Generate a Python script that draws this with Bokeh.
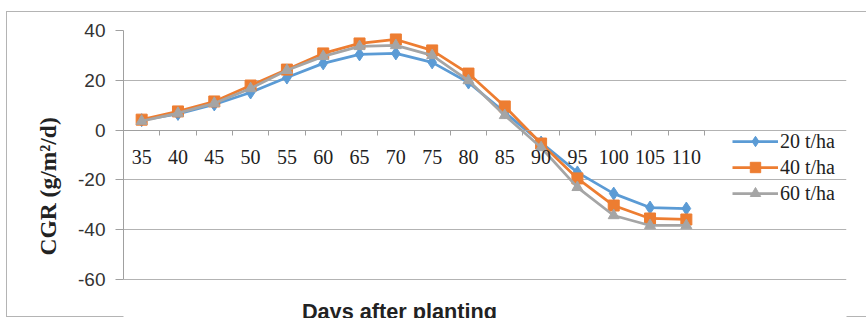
from bokeh.plotting import figure
from bokeh.models import Range1d, FixedTicker, Legend, LegendItem, Title, Label
from bokeh.embed import file_html
from bokeh.resources import INLINE

days = [35, 40, 45, 50, 55, 60, 65, 70, 75, 80, 85, 90, 95, 100, 105, 110]
cgr_20 = [4.0, 6.5, 10.3, 15.1, 21.1, 26.8, 30.4, 30.8, 27.2, 19.1, 7.1, -5.0, -17.0, -25.5, -31.1, -31.5]
cgr_40 = [4.2, 7.5, 11.5, 17.9, 24.3, 30.8, 34.8, 36.4, 32.0, 22.7, 9.5, -5.4, -19.4, -30.3, -35.5, -35.9]
cgr_60 = [3.6, 6.8, 10.8, 16.7, 24.0, 29.6, 33.6, 34.0, 30.0, 19.9, 5.9, -7.0, -23.0, -34.3, -38.3, -38.3]
series_names = ["20 t/ha", "40 t/ha", "60 t/ha"]
y_ticks = [-60, -40, -20, 0, 20, 40]

step = days[1] - days[0]
x_lo = days[0] - step / 2
x_hi = days[-1] + step / 2
y_lo, y_hi = y_ticks[0], y_ticks[-1]

# layout: the gridded plot area is 581 x 249 px; the frame extends right and
# down so the legend and x title (drawn inside the frame) are not clipped
W, H = 866, 318
left_b, right_b, top_b, bottom_b = 123, 20, 30, 0
plot_w_px, plot_h_px = 581, 249
frame_w = W - left_b - right_b
frame_h = H - top_b - bottom_b
px_x = plot_w_px / (x_hi - x_lo)
px_y = plot_h_px / (y_hi - y_lo)
x_frame_hi = x_lo + frame_w / px_x
y_frame_lo = y_hi - frame_h / px_y

border_css = ("linear-gradient(#b4b4b4,#b4b4b4) 6px 11px / 860px 1px no-repeat, "
              "linear-gradient(#b4b4b4,#b4b4b4) 6px 11px / 1px 305px no-repeat, "
              "linear-gradient(#b4b4b4,#b4b4b4) 6px 316px / 860px 1px no-repeat, white")

p = figure(width=W, height=H, output_backend="svg", toolbar_location=None,
           x_range=Range1d(x_lo, x_frame_hi), y_range=Range1d(y_frame_lo, y_hi),
           min_border_left=left_b, min_border_right=right_b,
           min_border_top=top_b, min_border_bottom=bottom_b,
           background_fill_color="white", border_fill_alpha=0,
           styles={"background": border_css})
p.outline_line_color = None
p.xgrid.grid_line_color = None
p.ygrid.grid_line_color = "#b3b3b3"
p.ygrid.grid_line_width = 1
p.ygrid.bounds = (x_lo, x_hi)

# y axis
p.yaxis.ticker = FixedTicker(ticks=y_ticks)
p.yaxis.bounds = (y_lo, y_hi)
p.yaxis.major_label_overrides = {t: str(t) for t in y_ticks}
p.yaxis.axis_line_color = "#a0a0a0"
p.yaxis.major_tick_line_color = "#a0a0a0"
p.yaxis.major_tick_out = 8
p.yaxis.major_tick_in = 0
p.yaxis.minor_tick_line_color = None
p.yaxis.major_label_text_font = "Liberation Sans"
p.yaxis.major_label_text_font_size = "19px"
p.yaxis.major_label_text_color = "#333333"
p.yaxis.major_label_standoff = 10

# x axis crossing at 0, ticks between categories
boundaries = [d - step / 2 for d in days] + [days[-1] + step / 2]
p.xaxis.fixed_location = 0
p.xaxis.bounds = (x_lo, x_hi)
p.xaxis.ticker = FixedTicker(ticks=days, minor_ticks=boundaries)
p.xaxis.axis_line_color = "#a0a0a0"
p.xaxis.major_tick_line_color = None
p.xaxis.major_tick_out = 0
p.xaxis.major_tick_in = 0
p.xaxis.minor_tick_line_color = "#a0a0a0"
p.xaxis.minor_tick_out = 5
p.xaxis.minor_tick_in = 0
p.xaxis.major_label_text_font = "Liberation Serif"
p.xaxis.major_label_text_font_size = "20px"
p.xaxis.major_label_text_color = "#222222"
p.xaxis.major_label_standoff = 15

colors = ["#5B9BD5", "#ED7D31", "#A5A5A5"]
markers = ["diamond", "square", "triangle"]
sizes = [13, 11, 11]
items = []
for vals, name, c, m, s in zip([cgr_20, cgr_40, cgr_60], series_names, colors, markers, sizes):
    r1 = p.line(days, vals, line_color=c, line_width=2.75)
    r2 = p.scatter(days, vals, marker=m, size=s, fill_color=c, line_color=c)
    items.append(LegendItem(label=name, renderers=[r1, r2]))

legend = Legend(items=items, location=(609, 112), glyph_width=46, glyph_height=26,
                label_height=26, spacing=0, padding=0, margin=0, label_standoff=2,
                border_line_color=None, background_fill_alpha=0,
                label_text_font="Liberation Serif", label_text_font_size="20px",
                label_text_color="#222222")
p.add_layout(legend, "center")

# axis titles
p.add_layout(Title(text="CGR (g/m²/d)", align="left", offset=63, standoff=30,
                   text_font="Liberation Serif", text_font_style="bold",
                   text_font_size="23.5px", text_color="#222222"), "left")
p.add_layout(Label(x=x_lo + (399 - left_b) / px_x, y=y_lo - 19 / px_y,
                   text="Days after planting", text_align="center", text_baseline="top",
                   text_font="Liberation Sans", text_font_style="bold",
                   text_font_size="21.7px", text_color="#222222"))

open("out.html", "w").write(file_html(p, INLINE))
